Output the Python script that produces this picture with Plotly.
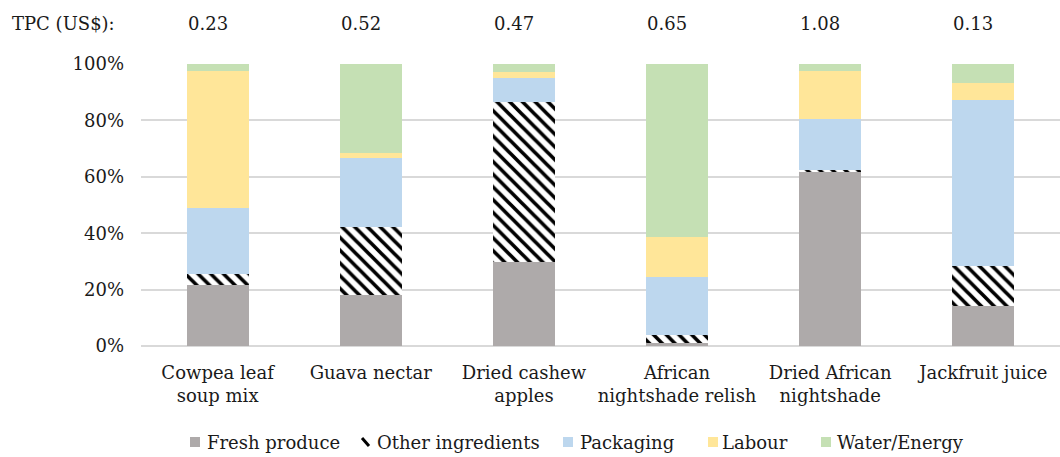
import plotly.graph_objects as go

# Products and their total production cost (TPC, US$)
products = [
    "Cowpea leaf<br>soup mix",
    "Guava nectar",
    "Dried cashew<br>apples",
    "African<br>nightshade relish",
    "Dried African<br>nightshade",
    "Jackfruit juice",
]
tpc = ["0.23", "0.52", "0.47", "0.65", "1.08", "0.13"]

# Cost share of each component (% of TPC)
fresh_produce = [21.5, 18.2, 29.8, 1.1, 61.8, 14.1]
other_ingredients = [4.0, 24.0, 56.6, 2.7, 0.6, 14.3]
packaging = [23.6, 24.3, 8.5, 20.5, 18.1, 58.8]
labour = [48.5, 1.8, 2.4, 14.2, 17.1, 5.9]
water_energy = [2.4, 31.7, 2.7, 61.5, 2.4, 6.9]

FONT = "DejaVu Serif"
FS = 18
TXT = "#1a1a1a"
GREY, BLUE, YELLOW, GREEN = "#aeaaaa", "#bdd7ee", "#ffe699", "#c5e0b4"

# plot-area geometry in pixels (used to place the legend and header)
W, H = 1060, 457
ML, MR, MT, MB = 141, 0, 64, 111
PW, PH = W - ML - MR, H - MT - MB


def px_x(x):
    return (x - ML) / PW


def px_y(y):
    return (H - MB - y) / PH


fig = go.Figure()
fig.add_bar(name="Fresh produce", x=products, y=fresh_produce,
            marker=dict(color=GREY, line=dict(width=0)))
fig.add_bar(name="Other ingredients", x=products, y=other_ingredients,
            marker=dict(color="white", line=dict(width=0),
                        pattern=dict(shape="\\", fgcolor="black", bgcolor="white",
                                     size=9, solidity=0.4, fillmode="replace")))
fig.add_bar(name="Packaging", x=products, y=packaging,
            marker=dict(color=BLUE, line=dict(width=0)))
fig.add_bar(name="Labour", x=products, y=labour,
            marker=dict(color=YELLOW, line=dict(width=0)))
fig.add_bar(name="Water/Energy", x=products, y=water_energy,
            marker=dict(color=GREEN, line=dict(width=0)))

annotations = []
shapes = []

# TPC header row
annotations.append(dict(text="TPC (US$):", x=px_x(10), y=px_y(23), xref="paper", yref="paper",
                        xanchor="left", yanchor="middle", showarrow=False,
                        font=dict(family=FONT, size=FS, color=TXT)))
for p, v in zip(products, tpc):
    annotations.append(dict(text=v, x=p, y=px_y(23), xref="x", yref="paper",
                            xanchor="center", yanchor="middle", xshift=-10, showarrow=False,
                            font=dict(family=FONT, size=FS, color=TXT)))

# legend row
legend_items = [
    ("Fresh produce", GREY, 190, 205),
    ("Other ingredients", None, 361, 375),
    ("Packaging", BLUE, 563, 578),
    ("Labour", YELLOW, 708, 720),
    ("Water/Energy", GREEN, 821, 835),
]
ly = 442
for label, col, ix, tx in legend_items:
    if col is None:
        shapes.append(dict(type="line", xref="paper", yref="paper",
                           x0=px_x(ix + 1), y0=px_y(ly - 4), x1=px_x(ix + 8), y1=px_y(ly + 4),
                           line=dict(color="black", width=3)))
    else:
        shapes.append(dict(type="rect", xref="paper", yref="paper",
                           x0=px_x(ix), y0=px_y(ly - 5), x1=px_x(ix + 10), y1=px_y(ly + 5),
                           fillcolor=col, line=dict(width=0)))
    annotations.append(dict(text=label, x=px_x(tx), y=px_y(ly), xref="paper", yref="paper",
                            xanchor="left", yanchor="middle", showarrow=False,
                            font=dict(family=FONT, size=FS, color=TXT)))

fig.update_layout(
    barmode="stack",
    bargap=0.595,
    width=W, height=H,
    margin=dict(l=ML, r=MR, t=MT, b=MB, pad=0),
    paper_bgcolor="white", plot_bgcolor="white",
    showlegend=False,
    font=dict(family=FONT, size=FS, color=TXT),
    annotations=annotations,
    shapes=shapes,
)
fig.update_xaxes(showgrid=False, showline=False, zeroline=False, ticks="", tickangle=0,
                 ticklabelstandoff=14, tickfont=dict(family=FONT, size=FS, color=TXT))
fig.update_yaxes(range=[0, 100], dtick=20, ticksuffix="%", showgrid=True,
                 gridcolor="#d9d9d9", gridwidth=1.5, zeroline=True, zerolinecolor="#d9d9d9",
                 zerolinewidth=1.5, showline=False, ticks="", ticklabelstandoff=16,
                 tickfont=dict(family=FONT, size=FS, color=TXT))

fig.write_html("out.html")
